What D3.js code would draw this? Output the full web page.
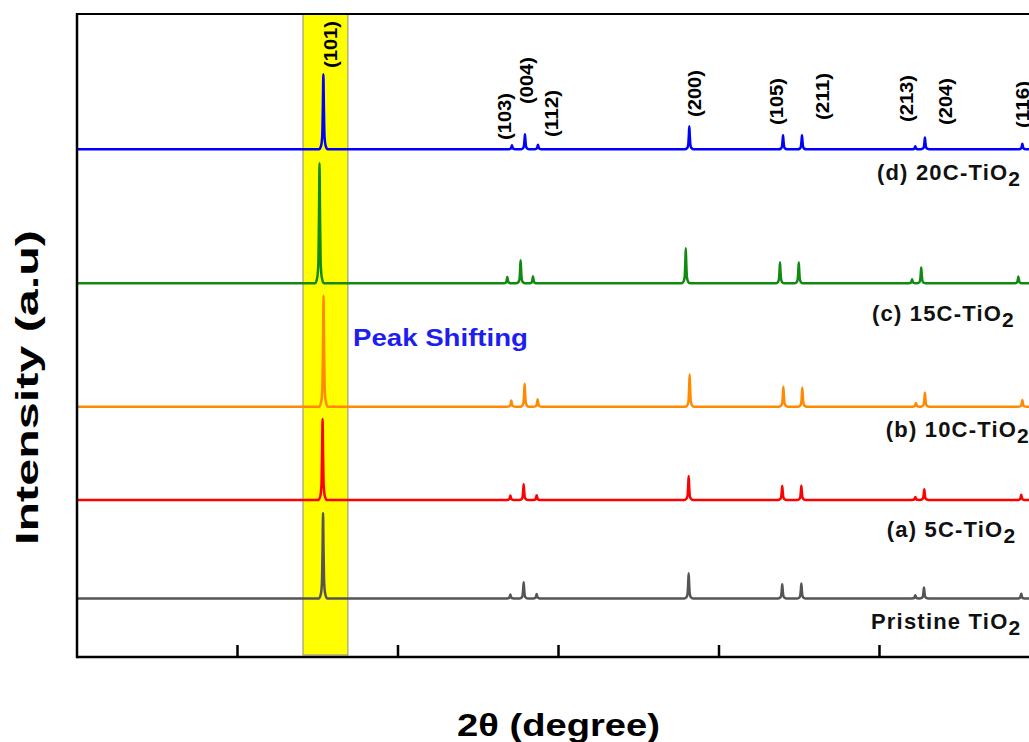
<!DOCTYPE html>
<html>
<head>
<meta charset="utf-8">
<script src="https://cdn.jsdelivr.net/npm/d3@7"></script>
<style>
  body { margin: 0; background: #fff; }
  text { font-family: "Liberation Sans", Arial, sans-serif; font-weight: bold; }
</style>
</head>
<body>
<div id="vis"></div>
<script>
// sample names (last char is drawn as subscript)
const samples = ["(d) 20C-TiO2", "(c) 15C-TiO2", "(b) 10C-TiO2", "(a) 5C-TiO2", "Pristine TiO2"];
const colors = ["#0000ff", "#118a11", "#ff8a00", "#ff0000", "#555555"];

// anatase reflections
const hkl = ["(101)", "(103)", "(004)", "(112)", "(200)", "(105)", "(211)", "(213)", "(204)", "(116)"];

// peak positions (2θ) read per sample
const pos20C = [25.35, 37.10, 37.91, 38.72, 48.15, 53.99, 55.17, 62.23, 62.83, 68.90];
const pos15C = [25.11, 36.81, 37.64, 38.41, 47.93, 53.80, 54.97, 62.03, 62.60, 68.65];
const pos10C = [25.36, 37.06, 37.89, 38.70, 48.17, 54.01, 55.19, 62.27, 62.83, 68.90];
const pos5C = [25.30, 37.00, 37.83, 38.64, 48.11, 53.94, 55.13, 62.23, 62.79, 68.83];
const posPristine = [25.33, 37.00, 37.83, 38.64, 48.11, 53.94, 55.13, 62.23, 62.77, 68.83];

// peak heights (a.u.)
const h20C = [750, 40, 150, 45, 230, 140, 140, 30, 117, 55];
const h15C = [1200, 62, 230, 70, 350, 207, 207, 40, 157, 68];
const h10C = [1110, 62, 230, 75, 323, 200, 190, 36, 140, 68];
const h5C = [810, 45, 157, 48, 240, 140, 143, 30, 107, 52];
const hPristine = [855, 40, 163, 45, 253, 143, 150, 33, 110, 48];

// vertical stacking offsets (a.u.)
const offsets = [5077, 3737, 2503, 1570, 585];

// peak profile read from the (101) reflection: [Δ2θ, fraction of height]
const peakShape = [[-0.27, 0], [-0.14, 0.05], [-0.07, 0.18], [-0.03, 0.6], [0, 1],
                   [0.03, 0.6], [0.07, 0.18], [0.14, 0.05], [0.27, 0]];

// hkl label positions (2θ) and bottom end (a.u.)
const hklPos = [25.76, 36.60, 37.97, 39.53, 48.44, 53.55, 56.42, 61.65, 64.08, 68.88];
const hklBase = [5890, 5170, 5530, 5200, 5400, 5320, 5370, 5350, 5320, 5290];

const xTicks = [10, 20, 30, 40, 50, 60, 70];

const svg = d3.select("#vis")
  .append("svg")
  .attr("width", 1029)
  .attr("height", 742);

const x = d3.scaleLinear().domain([10, 70]).range([77, 1040]);
const y = d3.scaleLinear().domain([0, 6430]).range([657, 14]);

// highlight band around (101)
svg.append("rect")
  .attr("x", x(24.08))
  .attr("y", y(6430))
  .attr("width", x(26.88) - x(24.08))
  .attr("height", y(20) - y(6430))
  .attr("fill", "#ffff00")
  .attr("stroke", "#8a8a8a")
  .attr("stroke-width", 1);

const allPos = [pos20C, pos15C, pos10C, pos5C, posPristine];
const allH = [h20C, h15C, h10C, h5C, hPristine];

const line = d3.line()
  .x(d => x(d[0]))
  .y(d => y(d[1]))
  .curve(d3.curveMonotoneX);

samples.forEach((name, i) => {
  const pts = [[10, 0]];
  allPos[i].forEach((p, k) => {
    peakShape.forEach(s => pts.push([p + s[0], allH[i][k] * s[1]]));
  });
  pts.push([70, 0]);
  pts.sort((a, b) => a[0] - b[0]);
  svg.append("path")
    .datum(pts.map(d => [d[0], d[1] + offsets[i]]))
    .attr("fill", "none")
    .attr("stroke", colors[i])
    .attr("stroke-width", 2.5)
    .attr("stroke-linejoin", "round")
    .attr("d", line);
});

// frame
svg.append("line").attr("x1", x(10)).attr("x2", x(70)).attr("y1", y(0)).attr("y2", y(0))
  .attr("stroke", "#000").attr("stroke-width", 2.5);
svg.append("line").attr("x1", x(10)).attr("x2", x(70)).attr("y1", y(6430)).attr("y2", y(6430))
  .attr("stroke", "#000").attr("stroke-width", 2);
svg.append("line").attr("x1", x(10)).attr("x2", x(10)).attr("y1", y(6430) - 1).attr("y2", y(0) + 1.2)
  .attr("stroke", "#000").attr("stroke-width", 2.5);

// inward ticks
svg.selectAll(".tick")
  .data(xTicks.slice(1))
  .enter()
  .append("line")
  .attr("x1", d => x(d)).attr("x2", d => x(d))
  .attr("y1", y(0)).attr("y2", y(0) - 12)
  .attr("stroke", "#000").attr("stroke-width", 2.5);

// hkl labels
hkl.forEach((t, k) => {
  svg.append("text")
    .attr("transform", `translate(${x(hklPos[k])}, ${y(hklBase[k])}) rotate(-90)`)
    .attr("dy", "0.36em")
    .attr("font-size", 19)
    .attr("font-weight", "normal")
    .style("font-weight", 600)
    .attr("textLength", 47)
    .attr("lengthAdjust", "spacingAndGlyphs")
    .text(t);
});

// sample labels
const labelX = [59.84, 59.53, 60.39, 60.45, 59.47];
const labelDy = [31, 38, 30, 37, 30];
samples.forEach((name, i) => {
  const tx = svg.append("text")
    .attr("x", x(labelX[i]))
    .attr("y", y(offsets[i]) + labelDy[i])
    .attr("font-size", 22)
    .attr("letter-spacing", 1.2)
    .attr("fill", "#111");
  tx.append("tspan").text(name.slice(0, -1));
  tx.append("tspan").attr("dy", 6).attr("font-size", 21).text(name.slice(-1));
});

svg.append("text")
  .attr("x", 353)
  .attr("y", 346)
  .attr("font-size", 24)
  .attr("textLength", 175)
  .attr("lengthAdjust", "spacingAndGlyphs")
  .attr("fill", "#1e1ef0")
  .text("Peak Shifting");

// axis titles
svg.append("text")
  .attr("x", 558.5 - 101.5)
  .attr("y", 736)
  .attr("font-size", 31)
  .attr("textLength", 203)
  .attr("lengthAdjust", "spacingAndGlyphs")
  .text("2θ (degree)");

svg.append("text")
  .attr("transform", "translate(38, 545) rotate(-90)")
  .attr("font-size", 31)
  .attr("textLength", 315)
  .attr("lengthAdjust", "spacingAndGlyphs")
  .text("Intensity (a.u)");
</script>
</body>
</html>
